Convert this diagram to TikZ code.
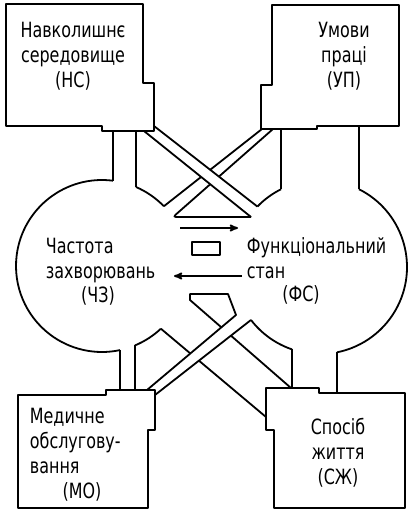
\documentclass[tikz,border=0pt]{standalone}
\usepackage{fontspec}
\usepackage{tikz}
\usetikzlibrary{arrows}
\usetikzlibrary{calc, positioning}
\newfontfamily\gostfont[FakeStretch=0.76]{DejaVu Sans}

\begin{document}
\begin{tikzpicture}[x=1pt,y=-1pt,line width=1.8pt,line join=round,>=stealth',
            lbl/.style={font=\gostfont\fontsize{21}{25}\selectfont,inner sep=0pt}]
            \useasboundingbox (0,0) rectangle (407,511);

            % centres of the two circles
            \coordinate (L) at (102,266);
            \coordinate (R) at (320,267);

            % Boxes
            \draw (6,4) -- (143,4) -- (143,83) -- (154,83) -- (154,131) -- (102,131) -- (102,126) -- (6,126) -- cycle;
            \draw (272,5) -- (399,5) -- (399,126) -- (317,126) -- (317,129) -- (261,129) -- (261,85) -- (272,85) -- cycle;
            \draw (18,395) -- (106,395) -- (106,390) -- (155,390) -- (155,430) -- (148,430) -- (148,508) -- (18,508) -- cycle;
            \draw (266,388) -- (319,388) -- (319,393) -- (405,393) -- (405,508) -- (274,508) -- (274,430) -- (266,430) -- cycle;

            % base anchor sits on the last line
            \node[lbl,align=center,anchor=base] (NS) at (73,87) {Навколишнє\\середовище\\(НС)};
            \node[lbl,align=center,anchor=base] (UP) at (344,87) {Умови\\праці\\(УП)};
            \node[lbl,align=left,anchor=base west] (MO) at (29,473) {Медичне\\обслугову-\\вання};
            \node[lbl,anchor=base] (MOa) at (82,498) {(МО)};
            \node[lbl,align=center,anchor=base] (SZ) at (338,484) {Спосіб\\життя\\(СЖ)};

            % Points on the circles
            \coordinate (ns1) at ($(L)+(-82.7:86)$);
            \coordinate (ns2) at ($(L)+(-66.7:86)$);
            \coordinate (ubE) at ($(L)+(-44:86)$);
            \coordinate (mo1) at ($(L)+(77.9:86)$);
            \coordinate (mo2) at ($(L)+(67.5:86)$);
            \coordinate (ldE) at ($(L)+(46.8:86)$);
            \coordinate (up1) at ($(R)+(-116.6:87)$);
            \coordinate (up2) at ($(R)+(-63.4:87)$);
            \coordinate (uaE) at ($(R)+(-136:87)$);
            \coordinate (sz1) at ($(R)+(108.8:87)$);
            \coordinate (sz2) at ($(R)+(78.7:87)$);
            \coordinate (lcE) at ($(R)+(142.5:87)$);

            % Circles
            \draw (ns1) arc[start angle=-82.7,end angle=-282.1,radius=86];
            \draw (ns2) arc[start angle=-66.7,end angle=-44,radius=86];
            \draw (mo2) arc[start angle=67.5,end angle=46.8,radius=86];
            \draw (up2) arc[start angle=-63.4,end angle=78.7,radius=87];
            \draw (up1) arc[start angle=-116.6,end angle=-136,radius=87];
            \draw (sz1) arc[start angle=108.8,end angle=142.5,radius=87];

            % Legs
            \draw (ns1 |- 0,131) -- (ns1);
            \draw (ns2 |- 0,131) -- (ns2);
            \draw (up1 |- 0,129) -- (up1);
            \draw (up2 |- 0,126) -- (up2);
            \draw (mo1 |- 0,390) -- (mo1);
            \draw (mo2 |- 0,390) -- (mo2);
            \draw (sz1 |- 0,388) -- (sz1);
            \draw (sz2 |- 0,393) -- (sz2);

            % Upper cross
            \coordinate (ua) at (154,126);
            \coordinate (la) at (144,131);
            \coordinate (laE) at (251,217);
            \coordinate (ub) at (262,129);
            \coordinate (lb) at (273,129);
            \coordinate (lbE) at (173,217);
            \draw (ua) -- (uaE);
            \draw (la) -- (laE);
            \draw (ub) -- (intersection of ub--ubE and ua--uaE);
            \draw (intersection of ub--ubE and la--laE) -- (ubE);
            \draw (lb) -- (intersection of lb--lbE and ua--uaE);
            \draw[rounded corners=3pt] (intersection of lb--lbE and la--laE) -- (lbE) -- (laE);

            % Lower cross
            \coordinate (uc) at (147,390);
            \coordinate (ucE) at (236,315);
            \coordinate (lc) at (155,395);
            \coordinate (ud) at (291,388);
            \coordinate (udE) at (190,300);
            \coordinate (ld) at (266,417);
            \draw (uc) -- (ucE) -- (228,294) -- (190,294) -- (udE) -- (intersection of ud--udE and uc--ucE);
            \draw (lc) -- (lcE);
            \draw (ud) -- (intersection of ud--udE and lc--lcE);
            \draw (ld) -- (intersection of ld--ldE and lc--lcE);
            \draw (intersection of ld--ldE and uc--ucE) -- (ldE);

            % Middle
            \node[lbl,align=left,anchor=base west] (CZ) at (45,278) {Частота\\захворювань};
            \node[lbl,anchor=base] (CZa) at (98,302) {(ЧЗ)};
            \node[lbl,align=left,anchor=base west] (FS) at (246,278) {Функціональний\\стан};
            \node[lbl,anchor=base] (FSa) at (301,301) {(ФС)};
            \node[draw,minimum width=28pt,minimum height=13pt,inner sep=0pt] (box) at (206,248.5) {};

            \coordinate (p1) at (180,228);
            \coordinate (p2) at (238,228);
            \coordinate (q1) at (242,276);
            \coordinate (q2) at (174,276);
            \draw[->] (p1) -- (p2);
            \draw[->] (q1) -- (q2);

\end{tikzpicture}
\end{document}
